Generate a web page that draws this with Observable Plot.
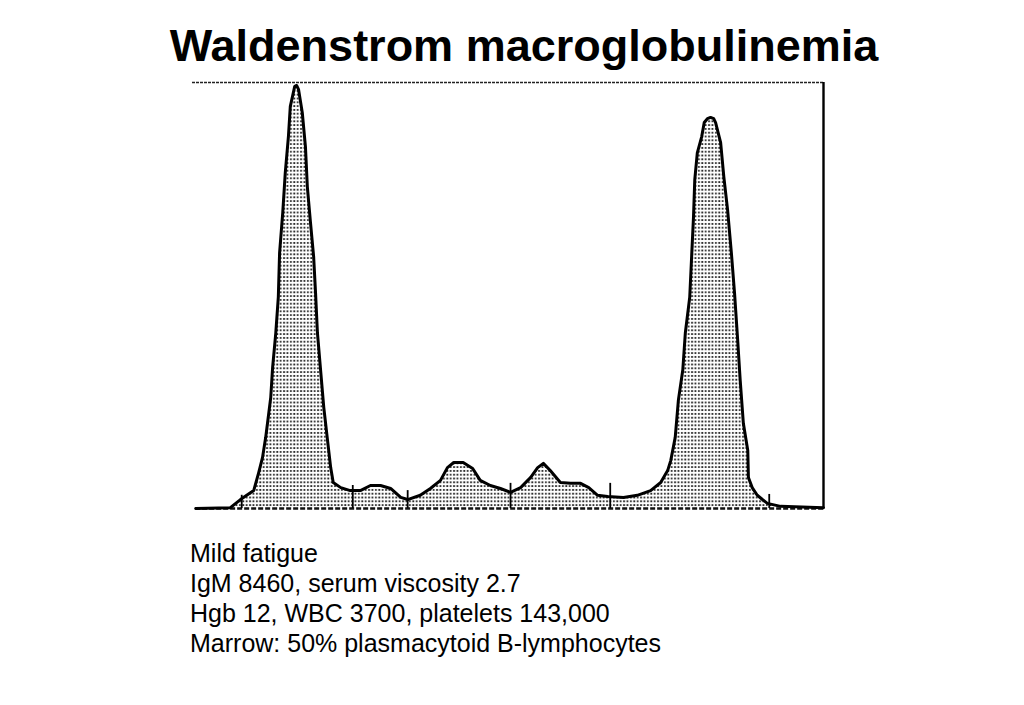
<!DOCTYPE html>
<html><head><meta charset="utf-8">
<script src="https://cdn.jsdelivr.net/npm/d3@7"></script>
<script src="https://cdn.jsdelivr.net/npm/@observablehq/plot@0.6"></script>
<style>
html,body{margin:0;padding:0;background:#fff;width:1024px;height:705px;overflow:hidden;font-family:"Liberation Sans",Arial,sans-serif;}
#title{position:absolute;left:0;top:20px;width:1048px;text-align:center;font-weight:bold;font-size:45px;line-height:52px;color:#000;white-space:nowrap;}
#chart{position:absolute;left:0;top:70px;}
#notes{position:absolute;left:190px;top:538px;font-size:25px;line-height:30px;color:#000;white-space:nowrap;}
</style></head>
<body>
<div id="title">Waldenstrom macroglobulinemia</div>
<div id="chart"></div>
<div id="notes"></div>
<script>
// Densitometer scan: position (0–100 across the strip) and relative density (0–100)
const position = [0.5, 6.0, 7.6, 9.7, 10.5, 11.1, 11.6, 11.9, 12.4, 12.7, 13.2, 13.6, 13.8, 14.3, 14.7, 15.2, 15.5, 16.2, 16.5, 16.8, 17.4, 17.9, 18.2, 18.7, 19.2, 19.5, 19.8, 20.3, 20.8, 21.4, 21.9, 22.3, 23.5, 25.0, 26.6, 28.2, 29.8, 31.4, 33.0, 34.1, 36.1, 37.7, 39.3, 40.4, 41.4, 42.9, 44.4, 45.6, 47.2, 48.8, 50.4, 52.0, 53.6, 54.7, 55.6, 56.7, 58.3, 59.9, 61.5, 62.8, 64.2, 65.8, 68.3, 70.5, 72.6, 74.2, 75.3, 75.8, 76.5, 77.0, 77.7, 78.1, 78.8, 79.1, 79.4, 79.6, 80.0, 80.7, 81.1, 81.6, 82.1, 82.6, 82.9, 83.7, 84.2, 84.8, 85.4, 85.9, 86.4, 86.8, 87.3, 88.0, 88.1, 88.7, 89.5, 91.1, 93.2, 100.0];
const density  = [0.0, 0.2, 2.1, 4.2, 8.5, 12.0, 16.7, 20.2, 26.1, 33.2, 41.2, 49.6, 60.0, 69.4, 78.8, 87.3, 94.4, 99.1, 99.3, 98.4, 92.9, 84.9, 75.5, 67.1, 59.1, 50.6, 41.2, 32.5, 23.8, 16.0, 9.6, 6.1, 4.9, 4.2, 4.2, 5.4, 5.4, 4.7, 2.6, 2.1, 3.1, 4.7, 6.6, 9.6, 10.8, 10.8, 9.4, 6.6, 5.4, 4.7, 3.8, 4.9, 7.3, 9.6, 10.6, 8.9, 6.1, 5.9, 5.9, 4.9, 3.1, 2.8, 2.6, 3.1, 4.2, 6.1, 8.9, 11.3, 16.7, 25.4, 32.5, 41.2, 49.6, 59.1, 68.5, 77.2, 83.5, 87.3, 90.6, 91.5, 91.8, 91.5, 90.6, 85.9, 77.9, 70.1, 60.0, 50.6, 39.5, 30.1, 20.0, 13.6, 7.3, 4.9, 3.1, 1.2, 0.5, 0.2];
// Fraction delimiters marked on the scan
const fractionBreaks = [7.8, 25.4, 34.1, 50.4, 66.2, 91.4];
const breakTops = [3.1, 5.4, 4.2, 5.9, 5.9, 3.3];
const notes = ["Mild fatigue", "IgM 8460, serum viscosity 2.7", "Hgb 12, WBC 3700, platelets 143,000", "Marrow: 50% plasmacytoid B-lymphocytes"];

const scan = position.map((x, i) => ({x, y: density[i]}));
const breaks = fractionBreaks.map((x, i) => ({x, y: breakTops[i]}));

const plot = Plot.plot({
  width: 1024, height: 450,
  marginLeft: 192, marginRight: 201, marginTop: 12, marginBottom: 12,
  x: {domain: [0, 100], axis: null},
  y: {domain: [0, 100], axis: null},
  marks: [
    Plot.areaY(scan, {x: "x", y: "y", fill: "url(#stipple)"}),
    Plot.ruleY([0], {x1: 0.5, x2: 100.3, stroke: "#111", strokeWidth: 2.6, strokeDasharray: "5,2"}),
    Plot.lineY(scan, {x: "x", y: "y", stroke: "#000", strokeWidth: 3}),
    Plot.ruleX(breaks, {x: "x", y1: 0, y2: "y", stroke: "#000", strokeWidth: 1.8}),
    Plot.ruleY([100], {x1: 0, x2: 100, stroke: "#222", strokeWidth: 1.3, strokeDasharray: "3,1"}),
    Plot.ruleX([100], {y1: 0, y2: 100, stroke: "#000", strokeWidth: 2.4})
  ]
});

const ns = "http://www.w3.org/2000/svg";
const defs = document.createElementNS(ns, "defs");
defs.innerHTML = '<pattern id="stipple" width="3.4" height="3.8" patternUnits="userSpaceOnUse">' +
  '<rect width="3.4" height="3.8" fill="#fff"/><rect x="1" y="1" width="1.8" height="1.8" fill="#222"/></pattern>';
plot.insertBefore(defs, plot.firstChild);
document.getElementById("chart").appendChild(plot);

const nd = document.getElementById("notes");
notes.forEach(t => { const d = document.createElement("div"); d.textContent = t; nd.appendChild(d); });
</script>
</body></html>
